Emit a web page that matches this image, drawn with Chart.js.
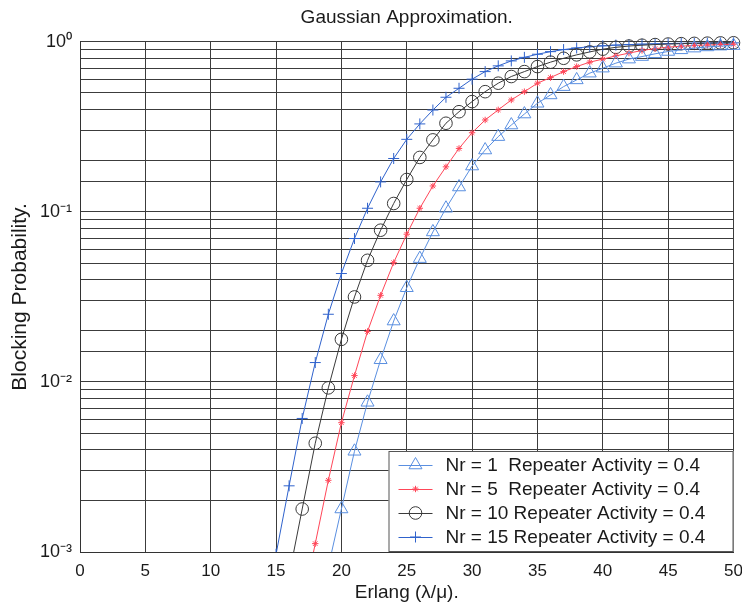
<!DOCTYPE html>
<html><head><meta charset="utf-8">
<script src="https://cdn.jsdelivr.net/npm/chart.js@4.4.1/dist/chart.umd.min.js"></script>
<style>html,body{margin:0;padding:0;background:#fff}#wrap{width:742px;height:610px}</style>
</head><body><div id="wrap"><canvas id="c" width="742" height="610"></canvas></div>
<script>
// ---- data ----
const erlangNr1 = [19,20,21,22,23,24,25,26,27,28,29,30,31,32,33,34,35,36,37,38,39,40,41,42,43,44,45,46,47,48,49,50];
const blockNr1 = [0.00082,0.00179,0.00391,0.00759,0.0135,0.0228,0.0358,0.0531,0.0762,0.105,0.140,0.186,0.231,0.277,0.324,0.376,0.435,0.487,0.545,0.597,0.654,0.700,0.749,0.791,0.819,0.850,0.877,0.897,0.918,0.933,0.943,0.950];

const erlangNr5 = [17,18,19,20,21,22,23,24,25,26,27,28,29,30,31,32,33,34,35,36,37,38,39,40,41,42,43,44,45,46,47,48,49,50];
const blockNr5 = [0.00048,0.00112,0.00264,0.00576,0.0109,0.0198,0.0323,0.0503,0.0739,0.105,0.142,0.184,0.236,0.292,0.347,0.398,0.455,0.509,0.571,0.616,0.668,0.715,0.759,0.791,0.827,0.858,0.889,0.912,0.930,0.942,0.952,0.958,0.963,0.967];

const erlangNr10 = [16,17,18,19,20,21,22,23,24,25,26,27,28,29,30,31,32,33,34,35,36,37,38,39,40,41,42,43,44,45,46,47,48,49,50];
const blockNr10 = [0.00073,0.00179,0.00436,0.00923,0.0178,0.0316,0.0519,0.078,0.112,0.155,0.209,0.265,0.332,0.388,0.445,0.509,0.571,0.625,0.668,0.715,0.759,0.80,0.838,0.872,0.905,0.928,0.944,0.955,0.963,0.970,0.975,0.979,0.982,0.985,0.987];

const erlangNr15 = [15,16,17,18,19,20,21,22,23,24,25,26,27,28,29,30,31,32,33,34,35,36,37,38,39,40,41,42,43,44,45,46,47,48,49,50];
const blockNr15 = [0.00097,0.00245,0.0061,0.013,0.025,0.0434,0.0697,0.105,0.150,0.206,0.267,0.329,0.397,0.472,0.533,0.603,0.668,0.722,0.772,0.81,0.845,0.875,0.90,0.92,0.935,0.947,0.956,0.963,0.968,0.972,0.976,0.979,0.981,0.983,0.985,0.986];

const seriesLabels = ['Nr = 1  Repeater Activity = 0.4','Nr = 5  Repeater Activity = 0.4','Nr = 10 Repeater Activity = 0.4','Nr = 15 Repeater Activity = 0.4'];
const yTickValues = [1, 0.1, 0.01, 0.001];
const yTickLabels = ['10\u2070','10\u207B\u00B9','10\u207B\u00B2','10\u207B\u00B3'];
const xTickValues = [0,5,10,15,20,25,30,35,40,45,50];
const titleText = 'Gaussian Approximation.';
const xTitle = 'Erlang (\u03BB/\u03BC).';
const yTitle = 'Blocking Probability.';

const pts = (xs, ys) => xs.map((x, i) => ({x, y: ys[i]}));
const FONT = "'Liberation Sans', Arial, sans-serif";

function mk(label, data, color, style, radius, lw) {
  return {
    label, data, borderColor: color, backgroundColor: 'rgba(0,0,0,0)',
    pointBorderColor: color, pointBackgroundColor: 'rgba(0,0,0,0)',
    pointStyle: style, pointRadius: radius, pointHoverRadius: radius,
    pointBorderWidth: lw, borderWidth: 1, tension: 0, fill: false,
    clip: {left: 0, top: 10, right: 8, bottom: 0}
  };
}

const datasets = [
  mk(seriesLabels[0], pts(erlangNr1, blockNr1), '#5a8fe0', 'triangle', 7.5, 1),
  mk(seriesLabels[1], pts(erlangNr5, blockNr5), '#ff4658', 'star', 3.2, 1),
  mk(seriesLabels[2], pts(erlangNr10, blockNr10), '#3a3a3a', 'circle', 6.3, 1),
  mk(seriesLabels[3], pts(erlangNr15, blockNr15), '#2f62cc', 'cross', 5.5, 1)
];

const insideLegend = {
  id: 'insideLegend',
  afterDraw(chart) {
    const {ctx, chartArea} = chart;
    const right = chartArea.right, bottom = chartArea.bottom;
    const left = right - 345, top = bottom - 101;
    ctx.save();
    ctx.fillStyle = '#fff';
    ctx.fillRect(left, top, right - left, bottom - top);
    ctx.strokeStyle = '#555';
    ctx.lineWidth = 1;
    ctx.strokeRect(left + 0.5, top + 0.5, right - left - 1, bottom - top - 1);
    ctx.font = '19px ' + FONT;
    ctx.textBaseline = 'middle';
    ctx.textAlign = 'left';
    chart.data.datasets.forEach((ds, i) => {
      const cy = top + 14 + i * 24;
      ctx.strokeStyle = ds.borderColor;
      ctx.lineWidth = 1;
      ctx.beginPath();
      ctx.moveTo(left + 10, cy + 0.5);
      ctx.lineTo(left + 44, cy + 0.5);
      ctx.stroke();
      ctx.fillStyle = 'rgba(0,0,0,0)';
      if (Chart.helpers && Chart.helpers.drawPoint) {
        Chart.helpers.drawPoint(ctx, {pointStyle: ds.pointStyle, radius: ds.pointRadius, rotation: 0, borderWidth: 1}, left + 27, cy);
      }
      ctx.fillStyle = '#1a1a1a';
      ctx.fillText(ds.label, left + 57, cy + 1);
    });
    ctx.restore();
  }
};

new Chart(document.getElementById('c'), {
  type: 'line',
  data: { datasets },
  options: {
    responsive: false,
    animation: false,
    devicePixelRatio: 1,
    layout: { padding: { left: 0, right: 0, top: 0, bottom: 0 } },
    plugins: {
      legend: { display: false },
      tooltip: { enabled: false },
      title: {
        display: true, text: titleText, color: '#1a1a1a', fullSize: false,
        font: { family: FONT, size: 19, weight: 'normal' },
        padding: { top: 6, bottom: 13 }
      }
    },
    scales: {
      x: {
        type: 'linear', min: 0, max: 50,
        afterBuildTicks: (s) => { s.ticks = xTickValues.map(v => ({value: v})); },
        ticks: { color: '#1a1a1a', font: { family: FONT, size: 17 }, padding: 9, maxRotation: 0, autoSkip: false },
        grid: { color: '#3c3c3c', lineWidth: 1, drawTicks: false },
        border: { display: true, color: '#333' },
        title: { display: true, text: xTitle, color: '#1a1a1a', font: { family: FONT, size: 19 }, padding: { top: 0, bottom: 6 } },
        afterFit: (s) => { s.height = 58; s.paddingRight = 5; s.paddingLeft = 0; }
      },
      y: {
        type: 'logarithmic', min: 0.001, max: 1,
        ticks: {
          color: '#1a1a1a', font: { family: FONT, size: 18 }, padding: 8, autoSkip: false,
          callback: (v) => {
            const i = yTickValues.findIndex(t => Math.abs(Math.log10(t) - Math.log10(v)) < 1e-6);
            return i >= 0 ? yTickLabels[i] : '';
          }
        },
        grid: { color: '#3c3c3c', lineWidth: 1, drawTicks: false },
        border: { display: true, color: '#333' },
        title: { display: true, text: yTitle, color: '#1a1a1a', font: { family: FONT, size: 21 }, padding: { top: 8, bottom: 0 } },
        afterFit: (s) => { s.width = 80; }
      }
    }
  },
  plugins: [insideLegend]
});
</script>
</body></html>
